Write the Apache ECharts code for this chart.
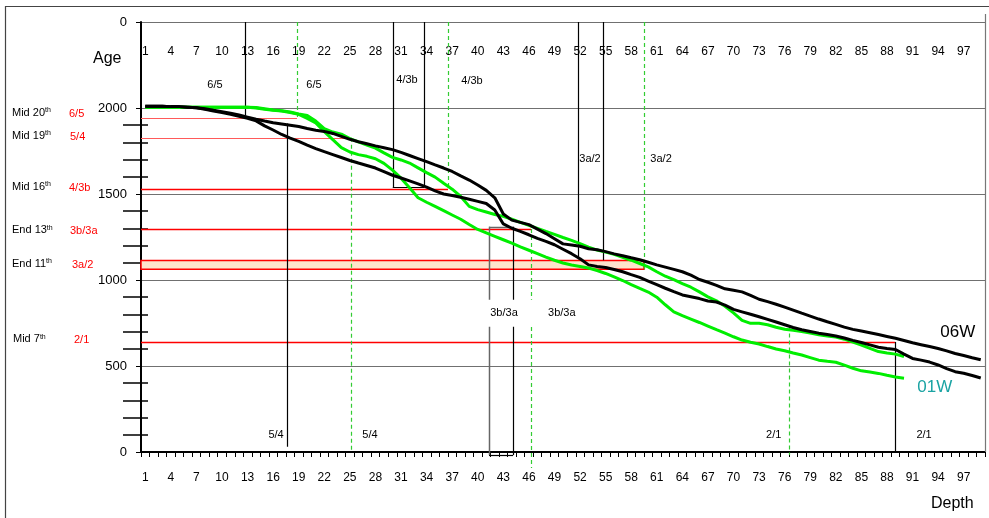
<!DOCTYPE html>
<html><head><meta charset="utf-8">
<script src="https://cdn.jsdelivr.net/npm/echarts@6/dist/echarts.min.js"></script>
<style>html,body{margin:0;padding:0;background:#fff}#c{width:989px;height:518px}</style>
</head><body><div id="c"></div><script>
const FONT = 'Liberation Sans, Arial, sans-serif';

// ---- data ----
const categories = ['1','2','3','4','5','6','7','8','9','10','11','12','13','14','15','16','17','18','19','20',
 '21','22','23','24','25','26','27','28','29','30','31','32','33','34','35','36','37','38','39','40',
 '41','42','43','44','45','46','47','48','49','50','51','52','53','54','55','56','57','58','59','60',
 '61','62','63','64','65','66','67','68','69','70','71','72','73','74','75','76','77','78','79','80',
 '81','82','83','84','85','86','87','88','89','90','91','92','93','94','95','96','97','98','99'];

const yTickValues = [0, 500, 1000, 1500, 2000, 2500];
const minorTickValues = [100,200,300,400,600,700,800,900,1100,1200,1300,1400,1600,1700,1800,1900];

// black curves (06W)
const black06W_a = [2010,2010,2010,2008,2008,2005,2002,1996,1987,1979,1970,1959,1947,1935,1924,1914,1907,1900,1892,1881,
 1871,1864,1852,1835,1818,1804,1792,1780,1769,1758,1742,1724,1706,1688,1669,1651,1631,1605,1581,1552,
 1521,1478,1384,1348,1335,1322,1296,1270,1240,1210,1204,1196,1182,1176,1165,1152,1141,1129,1118,1103,
 1088,1075,1062,1048,1028,1003,987,969,949,940,931,911,888,874,859,842,825,807,790,773,
 757,742,726,713,703,693,683,672,661,648,635,624,613,602,588,573,561,548,536];
const black06W_b = [2010,2010,2010,2008,2008,2005,2002,1992,1982,1973,1964,1952,1940,1925,1896,1872,1846,1825,1806,1784,
 1764,1746,1729,1712,1695,1680,1666,1651,1630,1609,1593,1576,1559,1540,1518,1500,1491,1481,1469,1457,
 1445,1407,1326,1301,1283,1263,1242,1225,1205,1179,1153,1124,1088,1079,1073,1061,1048,1031,1015,994,
 973,952,932,913,903,892,878,872,854,829,815,801,786,771,756,740,724,711,701,691,
 683,674,663,649,637,623,609,602,596,569,544,534,523,506,485,467,458,445,430];
// green curves (01W)
const green01W_a = [2005,2005,2005,2005,2005,2005,2005,2005,2005,2005,2005,2005,2005,2003,1996,1989,1984,1977,1965,1956,
 1924,1880,1860,1848,1822,1803,1785,1767,1739,1713,1698,1680,1652,1624,1598,1562,1528,1486,1428,1409,
 1395,1381,1370,1353,1335,1318,1300,1282,1265,1247,1230,1211,1191,1174,1162,1149,1132,1115,1096,1076,
 1048,1022,1002,979,958,931,902,879,847,809,765,748,748,740,725,714,708,701,691,682,
 675,668,656,639,622,603,584,575,569,555];
const green01W_b = [2005,2005,2005,2005,2005,2005,2005,2005,2005,2005,2005,2005,2005,2000,1993,1987,1982,1974,1963,1940,
 1913,1863,1816,1770,1744,1729,1719,1705,1678,1639,1592,1536,1478,1452,1428,1403,1378,1353,1323,1294,
 1274,1254,1234,1214,1193,1173,1153,1133,1115,1099,1087,1079,1070,1055,1038,1018,997,973,951,930,
 900,856,815,793,773,753,732,711,691,670,651,638,628,613,599,589,576,564,549,534,
 527,522,505,487,472,465,457,446,436,429];

// reference segments: [depthFrom, ageFrom, depthTo, ageTo, kind]
const refSegments = [
 [0.5,1940,18.80,1940,3],
 [0.5,1827,25.13,1827,3],
 [0.5,1530,36.51,1530,2],
 [0.5,1297,46.25,1297,2],
 [0.5,640,88.94,640,2],
 [12.70,2500,12.70,1956,0],
 [18.80,2500,18.80,1940,1],
 [17.63,1910,17.63,30,0],
 [25.13,1827,25.13,0,1],
 [30.03,2500,30.03,1540,0],
 [33.70,2500,33.70,1540,0],
 [30.03,1540,33.70,1540,0],
 [36.51,2500,36.51,1530,1],
 [41.32,1310,41.32,-18,4],
 [44.14,1310,44.14,-18,0],
 [41.32,1310,44.14,1310,4],
 [41.32,-18,44.14,-18,0],
 [46.25,1297,46.25,-93,1],
 [51.76,2500,51.76,1120,0],
 [54.69,2500,54.69,1115,0],
 [59.50,2500,59.50,1062,1],
 [76.51,730,76.51,-18,1],
 [88.94,640,88.94,0,0]
];
// 3a/2 band: [depthFrom, ageLow, depthTo, ageHigh]
const bandRange = [[0.5,1062,59.50,1114]];

// in-plot annotations
const annoText = ['6/5','6/5','4/3b','4/3b','3a/2','3a/2','3b/3a','3b/3a','5/4','5/4','2/1','2/1','06W','01W'];
const annoX = [9.18,20.79,31.70,39.33,53.17,61.50,43.08,45.90,16.34,27.36,74.71,92.35,96.3,93.6];
const annoY = [2132,2132,2161,2155,1705,1705,806,806,99,99,99,99,695,374];

// left legend of periods
const periodNames = ['Mid 20','Mid 19','Mid 16','End 13','End 11','Mid 7'];
const boundaryNames = ['6/5','5/4','4/3b','3b/3a','3a/2','2/1'];

// ---- chart ----
const chart = echarts.init(document.getElementById('c'), null, {renderer:'canvas'});

const segStyles = {
 0:{c:'#000000', w:1.2},
 1:{c:'#33cc33', w:1.2, d:[4,3]},
 2:{c:'#ff0000', w:1.5},
 3:{c:'#ff5a5a', w:1.2},
 4:{c:'#666666', w:1.5}
};

function renderSeg(params, api){
  const k = api.value(4);
  const p1 = api.coord([api.value(0), api.value(1)]);
  const p2 = api.coord([api.value(2), api.value(3)]);
  const st = segStyles[k];
  let x1=p1[0], y1=p1[1], x2=p2[0], y2=p2[1];
  if (Math.abs(x1-x2)<0.01){ x1 = x2 = Math.round(x1)+0.5; }
  if (Math.abs(y1-y2)<0.01){ y1 = y2 = Math.round(y1)+0.5; }
  return {type:'line', shape:{x1,y1,x2,y2}, style:{stroke:st.c, lineWidth:st.w, lineDash:st.d||null}};
}
function renderBand(params, api){
  const p1 = api.coord([api.value(0), api.value(3)]);
  const p2 = api.coord([api.value(2), api.value(1)]);
  return {type:'rect', shape:{x:p1[0], y:p1[1], width:p2[0]-p1[0], height:p2[1]-p1[1]},
    style:{fill:'#fde3cc', stroke:'#ff0000', lineWidth:1.5}};
}
function renderAnno(params, api){
  const i = params.dataIndex;
  const p = api.coord([api.value(0), api.value(1)]);
  const style = {text:annoText[i], fill:'#000', font:'11px '+FONT, align:'center', verticalAlign:'middle'};
  if (i === 6){ style.backgroundColor = '#fff'; style.padding = [8,3]; }
  if (i === 7){ style.backgroundColor = '#fff'; style.padding = [8,3,8,20]; style.align = 'left'; }
  if (i === 12){ style.font = '17px '+FONT; }
  if (i === 13){ style.font = '17px '+FONT; style.fill = '#1aa3a3'; }
  return {type:'text', x:p[0], y:p[1], style};
}

const leftGraphics = [];
const leftY = [115,138,189,232.5,266,341.5];
const redX = [69,70,69,70,72,74];
periodNames.forEach((n,i)=>{
  leftGraphics.push({type:'text', left: i===5?13:12, top: leftY[i]-8, z:10,
    style:{text:'{a|'+n+'}{s|th}', rich:{a:{fontSize:11, fontFamily:FONT, fill:'#000'}, s:{fontSize:7, fontFamily:FONT, fill:'#000', verticalAlign:'top'}}}});
  leftGraphics.push({type:'text', left: redX[i], top: leftY[i]-7, z:10,
    style:{text:boundaryNames[i], fontSize:11, fontFamily:FONT, fill:'#ff0000'}});
});

const option = {
  animation:false,
  backgroundColor:'#fff',
  grid:{left:141, right:4, top:22, bottom:66, containLabel:false},
  xAxis:[
    {type:'category', data:categories, position:'bottom', boundaryGap:true,
     axisLine:{lineStyle:{color:'#000', width:2}},
     axisTick:{show:true, interval:0, length:5, lineStyle:{color:'#000', width:1}},
     axisLabel:{interval:2, fontSize:12, fontFamily:FONT, color:'#000', margin:20},
     splitLine:{show:false}},
    {type:'category', data:categories, position:'top', boundaryGap:true,
     axisLine:{lineStyle:{color:'#000', width:2}},
     axisTick:{show:true, interval:0, inside:true, length:5, lineStyle:{color:'#000', width:1}},
     axisLabel:{interval:2, inside:true, fontSize:12, fontFamily:FONT, color:'#000', margin:24},
     splitLine:{show:false}},
    {type:'value', min:0.5, max:99.5, show:false}
  ],
  yAxis:[
    {type:'value', min:0, max:2500, interval:500,
     axisLine:{show:true, lineStyle:{color:'#000', width:2}},
     axisTick:{show:true, length:5, lineStyle:{color:'#000'}},
     axisLabel:{fontSize:13, fontFamily:FONT, color:'#000', margin:14,
       formatter:v=> v===2500 ? '0' : String(v)},
     splitLine:{show:true, lineStyle:{color:'#707070', width:1}}},
    {type:'value', min:0, max:2500, position:'left', offset:-7,
     axisLine:{show:false}, axisLabel:{show:false}, splitLine:{show:false},
     axisTick:{show:true, customValues:minorTickValues, length:25, lineStyle:{color:'#000', width:1.5}}}
  ],
  graphic:[
    {type:'rect', shape:{x:5.5, y:6.5, width:1100, height:700}, style:{fill:null, stroke:'#444', lineWidth:1.2}, z:0, silent:true},
    {type:'line', shape:{x1:985.5, y1:14, x2:985.5, y2:452}, style:{stroke:'#777', lineWidth:1.2}, z:1, silent:true},
    {type:'text', left:93, top:51, z:10, style:{text:'Age', fontSize:16, fontFamily:FONT, fill:'#000'}},
    {type:'text', left:931, top:496, z:10, style:{text:'Depth', fontSize:16, fontFamily:FONT, fill:'#000'}},
    ...leftGraphics
  ],
  series:[
    {type:'custom', name:'band', xAxisIndex:2, yAxisIndex:0, renderItem:renderBand, data:bandRange, z:1, silent:true,
     encode:{x:[0,2], y:[1,3]}},
    {type:'custom', name:'refLines', xAxisIndex:2, yAxisIndex:0, renderItem:renderSeg, data:refSegments, z:2, silent:true,
     encode:{x:[0,2], y:[1,3]}},
    {type:'line', name:'01W a', xAxisIndex:0, yAxisIndex:0, data:green01W_a, showSymbol:false, symbol:'none',
     lineStyle:{color:'#00ee00', width:3}, z:3},
    {type:'line', name:'01W b', xAxisIndex:0, yAxisIndex:0, data:green01W_b, showSymbol:false, symbol:'none',
     lineStyle:{color:'#00ee00', width:3}, z:3},
    {type:'line', name:'06W a', xAxisIndex:0, yAxisIndex:0, data:black06W_a, showSymbol:false, symbol:'none',
     lineStyle:{color:'#000', width:3}, z:4},
    {type:'line', name:'06W b', xAxisIndex:0, yAxisIndex:0, data:black06W_b, showSymbol:false, symbol:'none',
     lineStyle:{color:'#000', width:3}, z:4},
    {type:'custom', name:'labels', xAxisIndex:2, yAxisIndex:0, renderItem:renderAnno,
     data:annoX.map((x,i)=>[x, annoY[i]]), z:5, silent:true, encode:{x:0, y:1}}
  ]
};
chart.setOption(option);
</script></body></html>
